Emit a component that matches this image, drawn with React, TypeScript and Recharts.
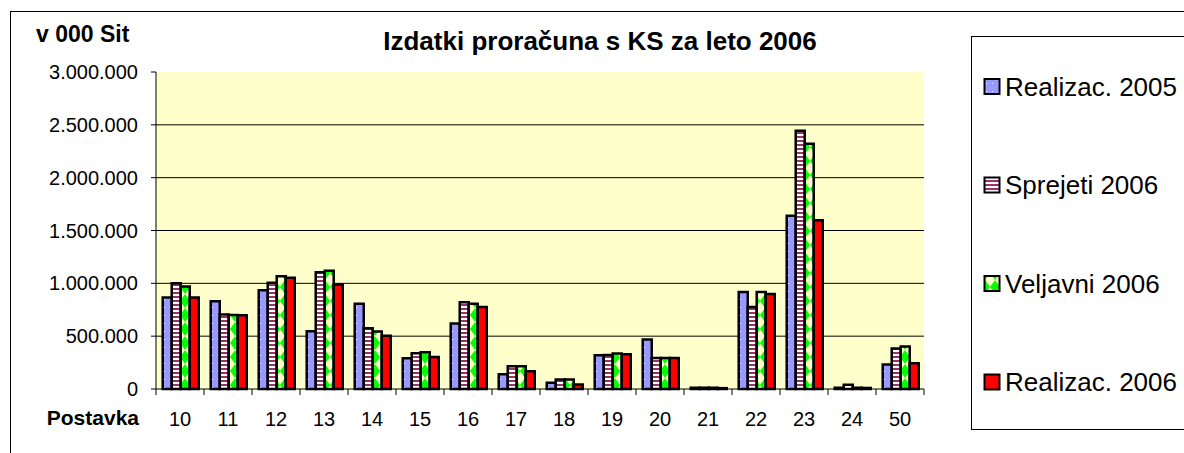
import React from 'react';
import { BarChart, Bar, XAxis, YAxis, CartesianGrid } from 'recharts';

const categories = ['10', '11', '12', '13', '14', '15', '16', '17', '18', '19', '20', '21', '22', '23', '24', '50'];
const realizac2005 = [866000, 831000, 935000, 547000, 806000, 292000, 620000, 139000, 60000, 319000, 468000, 12000, 919000, 1640000, 12000, 231000];
const sprejeti2006 = [1000000, 705000, 1005000, 1106000, 575000, 338000, 822000, 215000, 89000, 322000, 294000, 12000, 777000, 2443000, 41000, 383000];
const veljavni2006 = [970000, 700000, 1068000, 1119000, 544000, 348000, 806000, 215000, 89000, 335000, 294000, 12000, 919000, 2322000, 12000, 402000];
const realizac2006 = [866000, 697000, 1052000, 990000, 503000, 303000, 777000, 168000, 42000, 329000, 294000, 8000, 900000, 1596000, 10000, 243000];
const yTicks = [0, 500000, 1000000, 1500000, 2000000, 2500000, 3000000];
const seriesNames = ['Realizac. 2005', 'Sprejeti 2006', 'Veljavni 2006', 'Realizac. 2006'];
const titleText = 'Izdatki proračuna s KS za leto 2006';
const yUnitText = 'v 000 Sit';
const xTitleText = 'Postavka';

const seriesKeys = ['r2005', 's2006', 'v2006', 'r2006'];
const seriesFills = ['url(#pBlue)', 'url(#pPurple)', 'url(#pGreen)', '#FF0000'];

const data = categories.map((c, i) => ({
  cat: c,
  r2005: realizac2005[i],
  s2006: sprejeti2006[i],
  v2006: veljavni2006[i],
  r2006: realizac2006[i],
}));

const W = 1184;
const H = 453;
const MARGIN = { top: 72, right: 260, bottom: 24, left: 0 };
const YAXIS_W = 156;
const XAXIS_H = 40;
const FONT = '"Liberation Sans", Arial, sans-serif';
const BAND = (W - MARGIN.right - MARGIN.left - YAXIS_W) / categories.length;

const fmt = (v: number) => String(v).replace(/\B(?=(\d{3})+(?!\d))/g, '.');

const XTick = (props: any) => {
  const { x, y, payload } = props;
  const idx = payload.index;
  const last = idx === categories.length - 1;
  return (
    <g>
      <line x1={x - BAND / 2} y1={y} x2={x - BAND / 2} y2={y + 6} stroke="#000" strokeWidth={1} />
      {last && <line x1={x + BAND / 2} y1={y} x2={x + BAND / 2} y2={y + 6} stroke="#000" strokeWidth={1} />}
      <text x={x} y={y + 37} textAnchor="middle" fontSize={20} fontFamily={FONT} fill="#000">
        {payload.value}
      </text>
    </g>
  );
};

const gridGen = (props: any) => {
  const { yAxis, offset } = props;
  const vals = yTicks.filter((t) => t > 0 && t < yTicks[yTicks.length - 1]);
  if (yAxis && typeof yAxis.scale === 'function') {
    return vals.map((v) => yAxis.scale(v));
  }
  const top = offset.top;
  const h = offset.height;
  const max = yTicks[yTicks.length - 1];
  return vals.map((v) => top + h * (1 - v / max));
};

export default function App() {
  const legendTop = 86.5;
  const legendStep = 98.5;
  return (
    <div style={{ position: 'absolute', left: 0, top: 0, width: W, height: H, overflow: 'hidden', background: '#fff' }}>
      <div style={{ position: 'absolute', left: 0, top: 0 }}>
        <BarChart width={W} height={H} data={data} margin={MARGIN} barCategoryGap="14%" barGap={0}>
          <CartesianGrid
            fill="#FFFFCC"
            vertical={false}
            stroke="#000"
            strokeWidth={1}
            horizontalCoordinatesGenerator={gridGen}
          />
          <XAxis
            dataKey="cat"
            height={XAXIS_H}
            interval={0}
            tickSize={0}
            tickMargin={0}
            tickLine={false}
            axisLine={{ stroke: '#000', strokeWidth: 1 }}
            tick={<XTick />}
          />
          <YAxis
            width={YAXIS_W}
            domain={[0, yTicks[yTicks.length - 1]]}
            ticks={yTicks}
            interval={0}
            tickSize={5}
            tickMargin={13}
            tickFormatter={fmt}
            axisLine={{ stroke: '#000', strokeWidth: 1 }}
            tickLine={{ stroke: '#000', strokeWidth: 1 }}
            tick={{ fill: '#000', fontSize: 20, fontFamily: FONT }}
          />
          {seriesKeys.map((k, i) => (
            <Bar
              key={k}
              dataKey={k}
              name={seriesNames[i]}
              fill={seriesFills[i]}
              stroke="#000"
              strokeWidth={2.5}
              isAnimationActive={false}
            />
          ))}
        </BarChart>
      </div>
      <svg
        width={W}
        height={H}
        style={{ position: 'absolute', left: 0, top: 0, pointerEvents: 'none' }}
      >
        <defs>
          <pattern id="pBlue" patternUnits="userSpaceOnUse" width={6} height={8}>
            <rect x={0} y={0} width={6} height={8} fill="#9999FF" />
            <rect x={2} y={3} width={1} height={1} fill="#FFFFFF" />
          </pattern>
          <pattern id="pPurple" patternUnits="userSpaceOnUse" width={4} height={4}>
            <rect x={0} y={0} width={4} height={4} fill="#993366" />
            <rect x={0} y={2} width={4} height={2} fill="#FFFFFF" />
          </pattern>
          <pattern id="pGreen" patternUnits="userSpaceOnUse" width={10} height={14}>
            <rect x={0} y={0} width={10} height={14} fill="#FFFFCC" />
            <polygon points="5,0 10,7 5,14 0,7" fill="#00FF00" />
          </pattern>
        </defs>
        <rect x={10.5} y={11.5} width={1300} height={600} fill="none" stroke="#000" strokeWidth={1} />
        <text x={36} y={42} fontSize={23} fontWeight="bold" fontFamily={FONT} fill="#000">
          {yUnitText}
        </text>
        <text x={600} y={50} textAnchor="middle" fontSize={26} fontWeight="bold" fontFamily={FONT} fill="#000">
          {titleText}
        </text>
        <text x={139} y={425} textAnchor="end" fontSize={21} fontWeight="bold" fontFamily={FONT} fill="#000">
          {xTitleText}
        </text>
        <rect x={971.5} y={36.5} width={300} height={393} fill="#fff" stroke="#000" strokeWidth={1} />
        {seriesNames.map((n, i) => {
          const cy = legendTop + i * legendStep;
          return (
            <g key={n}>
              <rect x={984.5} y={cy - 7.5} width={15} height={15} fill={seriesFills[i]} stroke="#000" strokeWidth={2} />
              <text x={1005} y={cy} dy="0.355em" fontSize={26} fontFamily={FONT} fill="#000">
                {n}
              </text>
            </g>
          );
        })}
      </svg>
    </div>
  );
}
